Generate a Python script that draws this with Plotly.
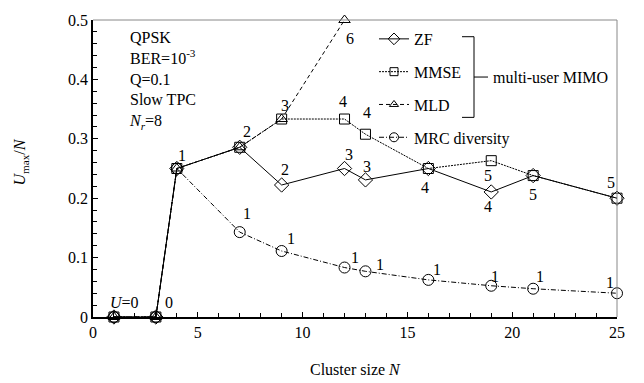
import plotly.graph_objects as go

# ---------------- data ----------------
N_zf = [1, 3, 4, 7, 9, 12, 13, 16, 19, 21, 25]
zf = [0, 0, 0.25, 0.2857, 0.2222, 0.25, 0.2308, 0.25, 0.2105, 0.2381, 0.2]

N_mmse = [1, 3, 4, 7, 9, 12, 13, 16, 19, 21, 25]
mmse = [0, 0, 0.25, 0.2857, 0.3333, 0.3333, 0.3077, 0.25, 0.2632, 0.2381, 0.2]

N_mld = [1, 3, 4, 7, 9, 12]
mld = [0, 0, 0.25, 0.2857, 0.3333, 0.5]

N_mrc = [1, 3, 4, 7, 9, 12, 13, 16, 19, 21, 25]
mrc = [0, 0, 0.25, 0.1429, 0.1111, 0.0833, 0.0769, 0.0625, 0.0526, 0.0476, 0.04]

# point labels (number of users U): (series, N, text)
lbl_series = ["zf", "zf", "zf", "zf", "zf", "mmse", "mld", "mmse", "mmse", "zf", "zf",
              "zf", "mmse", "zf", "zf", "zf",
              "mrc", "mrc", "mrc", "mrc", "mrc", "mrc", "mrc", "mrc"]
lbl_N = [1, 3, 4, 7, 9, 9, 12, 12, 13, 12, 13,
         16, 19, 19, 21, 25,
         7, 9, 12, 13, 16, 19, 21, 25]
lbl_text = ["<i>U</i>=0", "0", "1", "2", "2", "3", "6", "4", "4", "3", "3",
            "4", "5", "4", "5", "5",
            "1", "1", "1", "1", "1", "1", "1", "1"]

info_lines = ["QPSK", "BER=10<sup>-3</sup>", "Q=0.1", "Slow TPC", "<i>N<sub>r</sub></i>=8"]

# ---------------- styling ----------------
FONT = "Liberation Serif"
W, H = 644, 383
ML, MR, MT, MB = 93, 27, 15, 66
PW, PH = W - ML - MR, H - MT - MB

# label offsets in pixels (dx, dy upward)
lbl_off = [(-6, 15, "left"), (13, 15, "center"), (5, 13, "center"), (7, 16, "center"),
           (3, 16, "center"), (3, 14, "center"), (5, -18, "center"), (-2, 18, "center"),
           (2, 22, "center"), (4, 14, "center"), (2, 13, "center"),
           (-3, -19, "center"), (-3, -15, "center"), (-3, -15, "center"), (0, -19, "center"),
           (-6, 16, "center"),
           (7, 19, "center"), (9, 13, "center"), (10, 10, "center"), (15, 7, "center"),
           (9, 10, "center"), (4, 9, "center"), (7, 12, "center"), (-7, 11, "center")]

series = {
    "zf": (N_zf, zf),
    "mmse": (N_mmse, mmse),
    "mld": (N_mld, mld),
    "mrc": (N_mrc, mrc),
}

def px2x(px):
    return (px - ML) / PW

def py2y(py):
    return 1 - (py - MT) / PH

fig = go.Figure()

specs = [
    ("ZF", N_zf, zf, "solid", "diamond-open", 11, 9),
    ("MMSE", N_mmse, mmse, "2px,1px", "square-open", 10, 8),
    ("MLD", N_mld, mld, "4px,3px", "triangle-up-open", 10, 8),
    ("MRC diversity", N_mrc, mrc, "5px,2px,1px,2px", "circle-open", 11, 9),
]
for i, (name, xs, ys, dash, sym, size, lsize) in enumerate(specs):
    fig.add_trace(go.Scatter(
        x=xs, y=ys, name=name, mode="lines+markers",
        line=dict(color="black", width=1, dash=dash),
        marker=dict(symbol=sym, size=size, color="black", line=dict(color="black", width=1)),
        cliponaxis=False, showlegend=False,
    ))
    # legend-only entry with smaller symbol
    fig.add_trace(go.Scatter(
        x=[None], y=[None], name=name, mode="lines+markers",
        line=dict(color="black", width=1, dash=dash),
        marker=dict(symbol=sym, size=lsize, color="black", line=dict(color="black", width=1)),
        legendgroup=f"g{i}", showlegend=True, hoverinfo="skip",
    ))

annotations = []
for s, n, t, (dx, dy, xa) in zip(lbl_series, lbl_N, lbl_text, lbl_off):
    xs, ys = series[s]
    yv = ys[xs.index(n)]
    annotations.append(dict(x=n, y=yv, xref="x", yref="y", text=t, showarrow=False,
                            xanchor=xa, yanchor="middle", xshift=dx, yshift=dy,
                            font=dict(family=FONT, size=16, color="black")))

# info text block
annotations.append(dict(x=px2x(127), y=py2y(22), xref="paper", yref="paper",
                        text="<br>".join(info_lines), showarrow=False, align="left",
                        xanchor="left", yanchor="top",
                        font=dict(family=FONT, size=16, color="black")))
# bracket label
annotations.append(dict(x=px2x(491), y=py2y(73), xref="paper", yref="paper",
                        text="multi-user MIMO", showarrow=False, xanchor="left", yanchor="middle",
                        font=dict(family=FONT, size=16, color="black")))
# axis titles
annotations.append(dict(x=px2x(355), y=py2y(370), xref="paper", yref="paper",
                        text="Cluster size <i>N</i>", showarrow=False, xanchor="center", yanchor="middle",
                        font=dict(family=FONT, size=16, color="black")))
annotations.append(dict(x=px2x(21), y=py2y(160), xref="paper", yref="paper",
                        text="<i>U</i><sub>max</sub>/<i>N</i>", showarrow=False, textangle=-90,
                        xanchor="center", yanchor="middle",
                        font=dict(family=FONT, size=16, color="black")))

shapes = [
    # top and right frame (gray)
    dict(type="line", xref="paper", yref="paper", x0=0, x1=1, y0=1, y1=1,
         line=dict(color="#888888", width=1)),
    dict(type="line", xref="paper", yref="paper", x0=1, x1=1, y0=0, y1=1,
         line=dict(color="#888888", width=1)),
    # bracket
    dict(type="line", xref="paper", yref="paper", x0=px2x(462), x1=px2x(474), y0=py2y(32), y1=py2y(32),
         line=dict(color="black", width=1)),
    dict(type="line", xref="paper", yref="paper", x0=px2x(474), x1=px2x(474), y0=py2y(32), y1=py2y(114),
         line=dict(color="black", width=1)),
    dict(type="line", xref="paper", yref="paper", x0=px2x(462), x1=px2x(474), y0=py2y(114), y1=py2y(114),
         line=dict(color="black", width=1)),
    dict(type="line", xref="paper", yref="paper", x0=px2x(474), x1=px2x(488), y0=py2y(73), y1=py2y(73),
         line=dict(color="black", width=1)),
]

fig.update_layout(
    width=W, height=H,
    margin=dict(l=ML, r=MR, t=MT, b=MB),
    paper_bgcolor="white", plot_bgcolor="white",
    font=dict(family=FONT, size=16, color="black"),
    showlegend=True,
    legend=dict(x=px2x(374), y=py2y(17), xanchor="left", yanchor="top",
                bgcolor="rgba(0,0,0,0)", tracegroupgap=9, itemwidth=30,
                font=dict(family=FONT, size=16, color="black")),
    annotations=annotations,
    shapes=shapes,
    xaxis=dict(range=[0, 25], tickvals=[0, 5, 10, 15, 20, 25], ticks="inside", ticklen=5,
               tickcolor="black", showline=True, linecolor="black", linewidth=1.5,
               showgrid=False, zeroline=False,
               minor=dict(dtick=1, ticks="inside", ticklen=4, tickcolor="black"),
               tickfont=dict(family=FONT, size=16)),
    yaxis=dict(range=[0, 0.5], tickvals=[0, 0.1, 0.2, 0.3, 0.4, 0.5],
               ticktext=["0", "0.1", "0.2", "0.3", "0.4", "0.5"],
               ticks="inside", ticklen=5, tickcolor="black", showline=True, linecolor="black",
               linewidth=1.5, showgrid=False, zeroline=False,
               minor=dict(dtick=0.02, ticks="inside", ticklen=4, tickcolor="black"),
               tickfont=dict(family=FONT, size=16)),
)

fig.write_html("out.html")
